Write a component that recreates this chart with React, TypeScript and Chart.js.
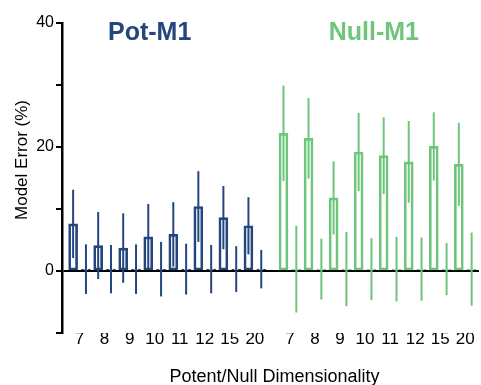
import React, { useEffect, useRef } from 'react';
import { Chart, registerables } from 'chart.js';

Chart.register(...registerables);

// Dimensionality values shown under each group
const dims = ['7', '8', '9', '10', '11', '12', '15', '20'];

// Pot-M1: error in the potent space (mean, ± spread) and in the null space
const potMean = [7.6, 4.1, 3.7, 5.5, 5.9, 10.4, 8.6, 7.3];
const potErr = [5.5, 5.4, 5.6, 5.3, 5.2, 5.7, 5.1, 4.6];
const potOffMean = [0.3, 0.3, 0.3, 0.3, 0.3, 0.3, 0.3, 0.3];
const potOffErr = [4.0, 3.9, 4.0, 4.4, 4.1, 3.9, 3.7, 3.1];

// Null-M1
const nullMean = [22.2, 21.4, 11.8, 19.2, 18.6, 17.6, 20.1, 17.2];
const nullErr = [7.7, 6.5, 5.9, 6.3, 6.2, 6.6, 5.5, 6.7];
const nullOffMean = [0.3, 0.3, 0.3, 0.3, 0.3, 0.3, 0.3, 0.3];
const nullOffErr = [7.0, 4.9, 6.0, 5.0, 5.2, 5.1, 4.2, 5.9];

const yTicks = [-10, 0, 10, 20, 30, 40];
const yLabelled = [0, 20, 40];

const NAVY = '#23467f';
const GREEN = '#6dc67b';
const FONT = "'Liberation Sans', Arial, Helvetica, sans-serif";

const POT_START = 0;
const NULL_START = 8.4;
const PAIR_OFFSET = 0.256;

type Pt = { x: number; y: number; err: number };

function pairs(start: number, means: number[], errs: number[], shift: number): Pt[] {
  return means.map((m, i) => ({ x: start + i + shift, y: m, err: errs[i] }));
}

export default function App() {
  const ref = useRef<HTMLCanvasElement>(null);

  useEffect(() => {
    if (!ref.current) return;
    const centers = [
      ...dims.map((_, i) => POT_START + i),
      ...dims.map((_, i) => NULL_START + i),
    ];

    const potData = [
      ...pairs(POT_START, potMean, potErr, -PAIR_OFFSET),
      ...pairs(POT_START, potOffMean, potOffErr, PAIR_OFFSET),
    ];
    const nullData = [
      ...pairs(NULL_START, nullMean, nullErr, -PAIR_OFFSET),
      ...pairs(NULL_START, nullOffMean, nullOffErr, PAIR_OFFSET),
    ];

    const errorBars = {
      id: 'errorBars',
      afterDatasetsDraw(chart: any) {
        const ys = chart.scales.y;
        const ctx = chart.ctx;
        chart.data.datasets.forEach((ds: any, di: number) => {
          const meta = chart.getDatasetMeta(di);
          meta.data.forEach((el: any, i: number) => {
            const p = ds.data[i] as Pt;
            ctx.save();
            ctx.strokeStyle = ds.borderColor;
            ctx.lineWidth = 2;
            ctx.beginPath();
            ctx.moveTo(el.x, ys.getPixelForValue(p.y + p.err));
            ctx.lineTo(el.x, ys.getPixelForValue(p.y - p.err));
            ctx.stroke();
            ctx.restore();
          });
        });
      },
    };

    const texts = {
      id: 'texts',
      afterDraw(chart: any) {
        const ctx = chart.ctx;
        const xs = chart.scales.x;
        const ys = chart.scales.y;
        const top = ys.getPixelForValue(40);
        ctx.save();
        ctx.font = `bold 25px ${FONT}`;
        ctx.textAlign = 'center';
        ctx.textBaseline = 'alphabetic';
        ctx.fillStyle = NAVY;
        ctx.fillText('Pot-M1', xs.getPixelForValue(2.8), top + 17);
        ctx.fillStyle = GREEN;
        ctx.fillText('Null-M1', xs.getPixelForValue(11.75), top + 17);

        ctx.fillStyle = '#000';
        ctx.font = `18px ${FONT}`;
        ctx.fillText('Potent/Null Dimensionality', (chart.chartArea.left + chart.chartArea.right) / 2 + 4, 382);

        ctx.font = `17px ${FONT}`;
        ctx.translate(27, 160);
        ctx.rotate(-Math.PI / 2);
        ctx.fillText('Model Error (%)', 0, 0);
        ctx.restore();
      },
    };

    const chart = new Chart(ref.current, {
      type: 'bar',
      data: {
        datasets: [
          {
            label: 'Pot-M1',
            data: potData as any,
            borderColor: NAVY,
            backgroundColor: 'rgba(255,255,255,0)',
            borderWidth: 2,
            borderSkipped: false,
          },
          {
            label: 'Null-M1',
            data: nullData as any,
            borderColor: GREEN,
            backgroundColor: 'rgba(255,255,255,0)',
            borderWidth: 2,
            borderSkipped: false,
          },
        ],
      },
      options: {
        responsive: false,
        animation: false,
        devicePixelRatio: 1,
        layout: { padding: { left: 0, right: 2, top: 23, bottom: 0 } },
        datasets: { bar: { grouped: false, barThickness: 9 } } as any,
        plugins: {
          legend: { display: false },
          tooltip: { enabled: false },
        },
        scales: {
          x: {
            type: 'linear',
            offset: false,
            min: -0.7,
            max: 15.95,
            grid: { display: false, offset: false },
            border: { display: false },
            afterBuildTicks: (axis: any) => {
              axis.ticks = centers.map((v) => ({ value: v }));
            },
            afterFit: (scale: any) => {
              scale.height = 52;
              scale.paddingLeft = 0;
              scale.paddingRight = 0;
            },
            ticks: {
              autoSkip: false,
              maxRotation: 0,
              padding: -12,
              color: '#000',
              font: { family: FONT, size: 17 },
              callback: (_v: any, i: number) => dims[i % dims.length],
            },
          },
          y: {
            min: -10,
            max: 40,
            afterBuildTicks: (axis: any) => {
              axis.ticks = yTicks.map((v) => ({ value: v }));
            },
            afterFit: (scale: any) => {
              scale.width = 62;
            },
            border: { display: true, color: '#000', width: 2.5 },
            grid: {
              color: (c: any) => (c.tick && c.tick.value === 0 ? '#000' : 'rgba(0,0,0,0)'),
              lineWidth: 2,
              tickColor: '#000',
              tickLength: 6,
              tickWidth: 2,
            } as any,
            ticks: {
              padding: 2,
              color: '#000',
              font: { family: FONT, size: 16 },
              callback: (v: any) => (yLabelled.includes(Number(v)) ? String(v) : ''),
            },
          },
        },
      },
      plugins: [errorBars, texts],
    });

    return () => chart.destroy();
  }, []);

  return (
    <div style={{ position: 'fixed', left: 0, top: 0, width: 481, height: 385, background: '#fff' }}>
      <canvas ref={ref} width={481} height={385} />
    </div>
  );
}
